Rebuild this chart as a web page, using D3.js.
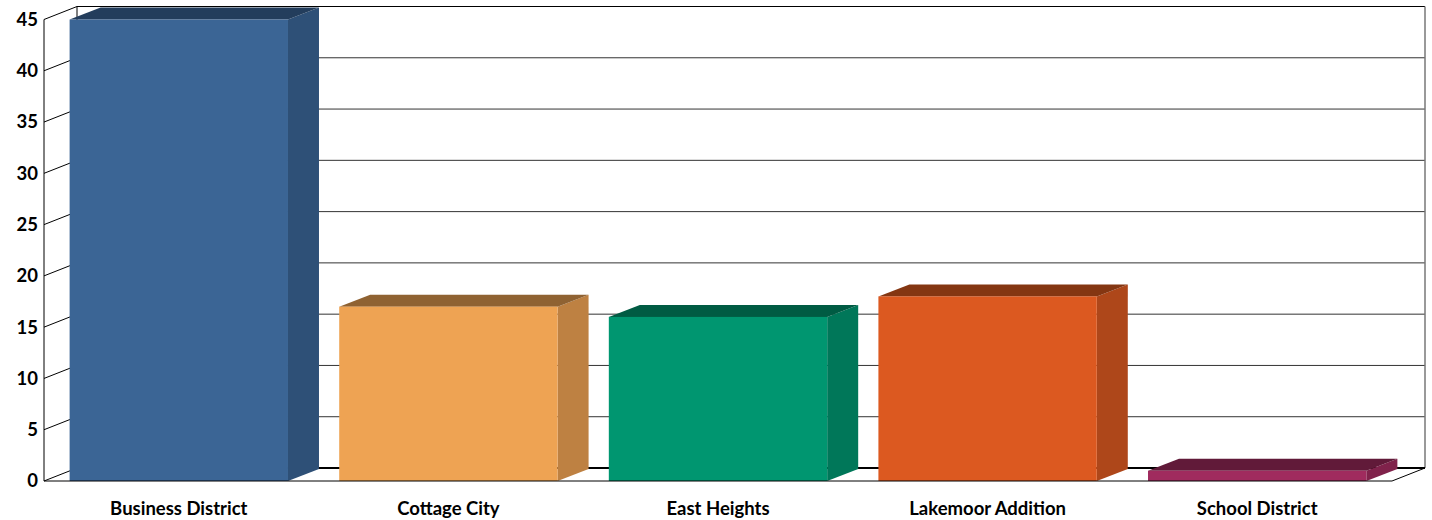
<!DOCTYPE html>
<html>
<head>
<meta charset="utf-8">
<script src="https://cdn.jsdelivr.net/npm/d3@7"></script>
<style>
  body { margin: 0; background: #fff; }
  .lbl text { font-family: Lato, "Open Sans", sans-serif; font-weight: bold; fill: #000; }
  .ylbl text { font-size: 18.5px; }
  .xlbl text { font-size: 18.5px; }
</style>
</head>
<body>
<div id="chart"></div>
<script>
// chart values
var categories = ['Business District', 'Cottage City', 'East Heights', 'Lakemoor Addition', 'School District'];
var values = [45, 17, 16, 18, 1];
var tickValues = [0, 5, 10, 15, 20, 25, 30, 35, 40, 45];

var fronts = ['#3b6595', '#eea353', '#009670', '#dc5920', '#a02b5e'];
var sides  = ['#2e5077', '#be8142', '#007759', '#ae471a', '#80224b'];
var tops   = ['#233d5c', '#8f6232', '#005b43', '#843612', '#611a39'];

var width = 1432, height = 520;
var plotLeft = 44, plotRight = 1392, plotBottom = 481, plotTop = 19.5;
var dx = 33, dy = -13;      // depth of the box
var bdx = 31, bdy = -12;    // depth of each bar

var svg = d3.select('#chart').append('svg')
    .attr('width', width)
    .attr('height', height);

var x = d3.scaleBand()
    .domain(categories)
    .range([plotLeft, plotRight])
    .paddingInner(0.19)
    .paddingOuter(0.095);

var y = d3.scaleLinear()
    .domain([0, 45])
    .range([plotBottom, plotTop]);

// back wall grid lines
svg.append('g').selectAll('line')
    .data(tickValues.slice(1))
    .enter().append('line')
    .attr('x1', plotLeft + dx).attr('x2', plotRight + dx)
    .attr('y1', function(d) { return y(d) + dy; })
    .attr('y2', function(d) { return y(d) + dy; })
    .attr('stroke', function(d) { return d == 45 ? '#000' : '#333'; })
    .attr('stroke-width', 1);

// left wall diagonals
svg.append('g').selectAll('line')
    .data(tickValues)
    .enter().append('line')
    .attr('x1', plotLeft).attr('x2', plotLeft + dx)
    .attr('y1', function(d) { return y(d); })
    .attr('y2', function(d) { return y(d) + dy; })
    .attr('stroke', '#000').attr('stroke-width', 1);

// wall edges
svg.append('line').attr('x1', plotLeft + dx).attr('x2', plotLeft + dx)
    .attr('y1', y(45) + dy).attr('y2', y(0) + dy).attr('stroke', '#000');
svg.append('line').attr('x1', plotRight + dx).attr('x2', plotRight + dx)
    .attr('y1', y(45) + dy).attr('y2', y(0) + dy).attr('stroke', '#777').attr('stroke-width', 1.5);
// floor
svg.append('line').attr('x1', plotLeft + dx).attr('x2', plotRight + dx)
    .attr('y1', y(0) + dy).attr('y2', y(0) + dy).attr('stroke', '#000').attr('stroke-width', 2);
svg.append('line').attr('x1', plotRight).attr('x2', plotRight + dx)
    .attr('y1', y(0)).attr('y2', y(0) + dy).attr('stroke', '#000');

// bars
var bars = svg.append('g').selectAll('g')
    .data(values)
    .enter().append('g');

function pts(a) { return a.map(function(p) { return p.join(','); }).join(' '); }

bars.append('polygon')
    .attr('points', function(d, i) {
        var x0 = x(categories[i]) + x.bandwidth(), y0 = y(d), y1 = y(0);
        return pts([[x0, y0], [x0 + bdx, y0 + bdy], [x0 + bdx, y1 + bdy], [x0, y1]]);
    })
    .attr('fill', function(d, i) { return sides[i]; });

bars.append('polygon')
    .attr('points', function(d, i) {
        var x0 = x(categories[i]), x1 = x0 + x.bandwidth(), y0 = y(d);
        return pts([[x0, y0], [x0 + bdx, y0 + bdy], [x1 + bdx, y0 + bdy], [x1, y0]]);
    })
    .attr('fill', function(d, i) { return tops[i]; });

bars.append('rect')
    .attr('x', function(d, i) { return x(categories[i]); })
    .attr('y', function(d) { return y(d); })
    .attr('width', x.bandwidth())
    .attr('height', function(d) { return y(0) - y(d); })
    .attr('fill', function(d, i) { return fronts[i]; });

// front axis lines
svg.append('line').attr('x1', plotLeft).attr('x2', plotLeft)
    .attr('y1', y(45)).attr('y2', y(0)).attr('stroke', '#000');
svg.append('line').attr('x1', plotLeft).attr('x2', plotRight)
    .attr('y1', y(0)).attr('y2', y(0)).attr('stroke', '#000');

// y labels
var yAxis = d3.axisLeft(y).tickValues(tickValues).tickSize(0).tickPadding(6);
var yg = svg.append('g').attr('class', 'lbl ylbl')
    .attr('transform', 'translate(' + plotLeft + ',0)')
    .call(yAxis);
yg.select('.domain').remove();

// x labels
var xAxis = d3.axisBottom(x).tickSize(0).tickPadding(21);
var xg = svg.append('g').attr('class', 'lbl xlbl')
    .attr('transform', 'translate(0,' + plotBottom + ')')
    .call(xAxis);
xg.select('.domain').remove();
</script>
</body>
</html>
